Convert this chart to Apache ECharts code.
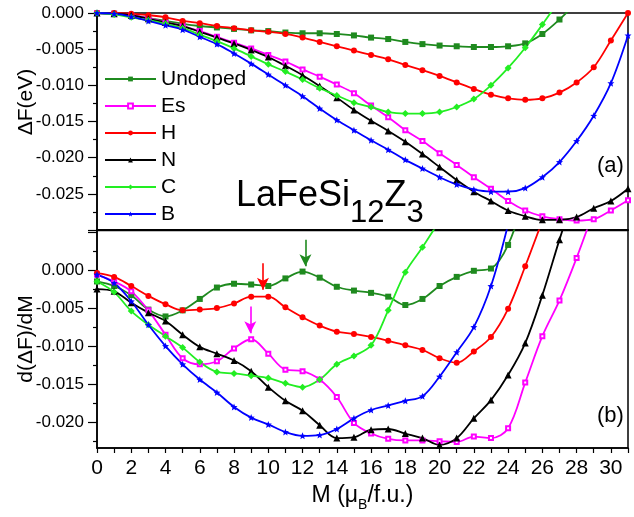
<!DOCTYPE html>
<html>
<head>
<meta charset="utf-8">
<script src="https://cdn.jsdelivr.net/npm/echarts@6/dist/echarts.min.js"></script>
<style>
  html, body { margin: 0; padding: 0; background: #fff; }
  #chart { width: 634px; height: 517px; }
</style>
</head>
<body>
<div id="chart"></div>
<script>
// Magnetic moment M (μB/f.u.)
const M = [0,1,2,3,4,5,6,7,8,9,10,11,12,13,14,15,16,17,18,19,20,21,22,23,24,25,26,27,28,29,30,31];

// Free-energy change ΔF (eV), panel (a)
const dfUndoped = [0,-0.0001,-0.0004,-0.0007,-0.0011,-0.0015,-0.0018,-0.0020,-0.0022,-0.0024,-0.0025,-0.0027,-0.0028,-0.0028,-0.0029,-0.0031,-0.0034,-0.0036,-0.0040,-0.0043,-0.0045,-0.0046,-0.0047,-0.0047,-0.0046,-0.0042,-0.0029,-0.0009,0.0015];
const dfEs = [0,-0.0001,-0.0003,-0.0007,-0.0013,-0.0018,-0.0025,-0.0033,-0.0041,-0.0049,-0.0058,-0.0067,-0.0078,-0.0088,-0.0099,-0.0111,-0.0128,-0.0144,-0.0162,-0.0177,-0.0194,-0.0210,-0.0227,-0.0243,-0.0260,-0.0273,-0.0281,-0.0285,-0.0287,-0.0285,-0.0273,-0.0259];
const dfH = [0,0,-0.0001,-0.0003,-0.0006,-0.0011,-0.0014,-0.0018,-0.0021,-0.0024,-0.0026,-0.0029,-0.0034,-0.0040,-0.0046,-0.0052,-0.0058,-0.0064,-0.0072,-0.0079,-0.0087,-0.0096,-0.0105,-0.0113,-0.0118,-0.0120,-0.0118,-0.0110,-0.0096,-0.0075,-0.0038,0.0000];
const dfN = [0,-0.0001,-0.0003,-0.0008,-0.0013,-0.0018,-0.0026,-0.0034,-0.0042,-0.0051,-0.0061,-0.0073,-0.0086,-0.0101,-0.0117,-0.0134,-0.0149,-0.0163,-0.0178,-0.0195,-0.0213,-0.0231,-0.0247,-0.0260,-0.0273,-0.0281,-0.0286,-0.0286,-0.0282,-0.0270,-0.0260,-0.0243];
const dfC = [0,-0.0002,-0.0006,-0.0010,-0.0015,-0.0021,-0.0030,-0.0039,-0.0049,-0.0060,-0.0071,-0.0081,-0.0092,-0.0104,-0.0114,-0.0124,-0.0130,-0.0137,-0.0139,-0.0139,-0.0137,-0.0130,-0.0119,-0.0100,-0.0076,-0.0048,-0.0016,0.0018];
const dfB = [0,-0.0001,-0.0005,-0.0011,-0.0017,-0.0023,-0.0033,-0.0043,-0.0056,-0.0070,-0.0085,-0.0100,-0.0115,-0.0132,-0.0148,-0.0162,-0.0176,-0.0189,-0.0203,-0.0215,-0.0227,-0.0237,-0.0244,-0.0247,-0.0247,-0.0242,-0.0227,-0.0206,-0.0177,-0.0142,-0.0097,-0.0031];

// Derivative d(ΔF)/dM, panel (b)
const dUndoped = [-0.0015,-0.0021,-0.0033,-0.0052,-0.0061,-0.0053,-0.0038,-0.0023,-0.0018,-0.0019,-0.0021,-0.0011,-0.0002,-0.0010,-0.0022,-0.0027,-0.0030,-0.0035,-0.0046,-0.0038,-0.0021,-0.0009,-0.0001,0.0002,0.0033,0.0100];
const dEs = [-0.0006,-0.0015,-0.0028,-0.0053,-0.0085,-0.0116,-0.0124,-0.0120,-0.0103,-0.0091,-0.0110,-0.0131,-0.0133,-0.0144,-0.0167,-0.0201,-0.0215,-0.0222,-0.0224,-0.0224,-0.0225,-0.0226,-0.0219,-0.0221,-0.0208,-0.0148,-0.0087,-0.0040,0.0016,0.0078];
const dH = [-0.0004,-0.0009,-0.0021,-0.0034,-0.0045,-0.0053,-0.0052,-0.0050,-0.0044,-0.0035,-0.0035,-0.0049,-0.0062,-0.0073,-0.0081,-0.0084,-0.0088,-0.0093,-0.0099,-0.0105,-0.0116,-0.0122,-0.0107,-0.0088,-0.0051,0.0005,0.0065];
const dN = [-0.0025,-0.0028,-0.0043,-0.0056,-0.0067,-0.0085,-0.0101,-0.0110,-0.0119,-0.0133,-0.0154,-0.0172,-0.0185,-0.0204,-0.0221,-0.0220,-0.0210,-0.0209,-0.0215,-0.0221,-0.0230,-0.0221,-0.0195,-0.0171,-0.0138,-0.0096,-0.0033,0.0040,0.0110];
const dC = [-0.0015,-0.0029,-0.0054,-0.0072,-0.0087,-0.0102,-0.0121,-0.0134,-0.0136,-0.0139,-0.0142,-0.0149,-0.0154,-0.0144,-0.0124,-0.0113,-0.0099,-0.0053,-0.0003,0.0030,0.0065];
const dB = [-0.0006,-0.0017,-0.0041,-0.0072,-0.0100,-0.0124,-0.0144,-0.0161,-0.0180,-0.0194,-0.0203,-0.0213,-0.0218,-0.0217,-0.0209,-0.0195,-0.0184,-0.0178,-0.0172,-0.0166,-0.0140,-0.0108,-0.0075,-0.0021,0.0060];

// Axis ticks and labels
const xLabelValues = [0,2,4,6,8,10,12,14,16,18,20,22,24,26,28,30];
const derivMajorTicks = [0.005,0,-0.005,-0.010,-0.015,-0.020];
const derivLabelValues = [0,-0.005,-0.010,-0.015,-0.020];
const derivMinorTicks = [0.0025,-0.0025,-0.0075,-0.0125,-0.0175,-0.0225];

// Arrows marking the local maxima in panel (b): [M, start, end]
const arrowUndoped = [12.17, 0.0040, 0.0005];
const arrowH = [9.69, 0.0009, -0.0026];
const arrowEs = [8.95, -0.0048, -0.0083];

const FONT = '"Liberation Sans", Arial, sans-serif';
const starPath = 'path://M0,-10L2.6,-3.5L9.5,-3.1L4.2,1.4L5.9,8.1L0,4.3L-5.9,8.1L-4.2,1.4L-9.5,-3.1L-2.6,-3.5Z';

const styles = {
  Undoped: { color: '#1f8a1f', symbol: 'rect', size: 6 },
  Es: { color: '#ff00ff', symbol: 'emptyRect', size: 4 },
  H: { color: '#ff0000', symbol: 'circle', size: 6 },
  N: { color: '#000000', symbol: 'triangle', size: 7 },
  C: { color: '#22ee22', symbol: 'diamond', size: 7 },
  B: { color: '#0000ff', symbol: starPath, size: 7 }
};

const pairs = arr => arr.map((v, i) => [M[i], v]);

function makeSeries(name, values, grid, arrow) {
  const s = styles[name];
  const series = {
    name: name,
    type: 'line',
    xAxisIndex: grid,
    yAxisIndex: grid === 0 ? 0 : 1,
    data: pairs(values),
    smooth: 0.35,
    clip: true,
    symbol: s.symbol,
    symbolSize: s.size,
    showSymbol: true,
    lineStyle: { color: s.color, width: 1.8 },
    itemStyle: { color: s.color, borderColor: s.color, borderWidth: s.symbol === 'emptyRect' ? 1 : 0 },
    emphasis: { disabled: true },
    z: 3
  };
  if (arrow) {
    series.markLine = {
      silent: true,
      symbol: ['none', 'arrow'],
      symbolSize: [9, 12],
      lineStyle: { color: s.color, width: 1.6, type: 'solid' },
      label: { show: false },
      data: [[{ coord: [arrow[0], arrow[1]] }, { coord: [arrow[0], arrow[2]] }]]
    };
  }
  return series;
}

const axisLineStyle = { color: '#000', width: 1.5 };
const tickLine = { color: '#000', width: 1.2 };
const fmt3 = v => (Math.abs(v) < 1e-9 ? '0.000' : v.toFixed(3));

const option = {
  animation: false,
  backgroundColor: '#fff',
  textStyle: { fontFamily: FONT },
  grid: [
    { left: 97, right: 6, top: 13, height: 217, show: true, borderColor: '#000', borderWidth: 1.5, backgroundColor: 'transparent', containLabel: false, outerBoundsMode: 'none' },
    { left: 97, right: 6, top: 230.5, height: 217.5, show: true, borderColor: '#000', borderWidth: 1.5, backgroundColor: 'transparent', containLabel: false, outerBoundsMode: 'none' }
  ],
  legend: {
    orient: 'vertical',
    left: 104,
    top: 68,
    padding: 0,
    itemWidth: 51,
    itemHeight: 6,
    itemGap: 5,
    selectedMode: false,
    textStyle: { fontSize: 21, fontFamily: FONT, color: '#000', lineHeight: 22 },
    data: ['Undoped', 'Es', 'H', 'N', 'C', 'B']
  },
  xAxis: [
    {
      gridIndex: 0, type: 'value', min: 0, max: 31, interval: 1,
      axisLine: { show: true, onZero: false, lineStyle: { color: '#000', width: 2 } },
      axisTick: { show: false }, axisLabel: { show: false }, splitLine: { show: false }
    },
    {
      gridIndex: 1, type: 'value', min: 0, max: 31, interval: 1,
      axisLine: { show: true, onZero: false, lineStyle: axisLineStyle },
      axisTick: { show: true, inside: false, length: 5, lineStyle: tickLine },
      axisLabel: { customValues: xLabelValues, fontSize: 21, color: '#000', fontFamily: FONT, margin: 10 },
      splitLine: { show: false },
      name: '{t|M (μ}{s|B}{t|/f.u.)}',
      nameLocation: 'middle',
      nameGap: 36,
      nameTextStyle: {
        rich: {
          t: { fontSize: 23, fontFamily: FONT, color: '#000', verticalAlign: 'bottom', padding: [0, 0, 5, 0] },
          s: { fontSize: 14, fontFamily: FONT, color: '#000', verticalAlign: 'bottom' }
        }
      }
    }
  ],
  yAxis: [
    {
      gridIndex: 0, type: 'value', min: -0.030, max: 0, interval: 0.005,
      axisLine: { show: true, lineStyle: axisLineStyle },
      axisTick: { show: true, inside: false, length: 9, lineStyle: tickLine },
      minorTick: { show: true, splitNumber: 2, length: 4, lineStyle: tickLine },
      axisLabel: { fontSize: 17, color: '#000', fontFamily: FONT, margin: 13, showMinLabel: false, formatter: fmt3 },
      splitLine: { show: false }
    },
    {
      gridIndex: 1, type: 'value', min: -0.0234, max: 0.0052, position: 'left',
      axisLine: { show: true, lineStyle: axisLineStyle },
      axisTick: { show: true, inside: false, length: 9, customValues: derivMajorTicks, lineStyle: tickLine },
      axisLabel: { customValues: derivLabelValues, fontSize: 17, color: '#000', fontFamily: FONT, margin: 13, formatter: fmt3 },
      splitLine: { show: false }
    },
    {
      gridIndex: 1, type: 'value', min: -0.0234, max: 0.0052, position: 'left', offset: 0,
      axisLine: { show: false },
      axisTick: { show: true, inside: false, length: 4, customValues: derivMinorTicks, lineStyle: tickLine },
      axisLabel: { show: false },
      splitLine: { show: false }
    }
  ],
  graphic: [
    {
      type: 'text', x: 26, y: 102, rotation: Math.PI / 2,
      style: { text: 'ΔF(eV)', fontSize: 21, fontFamily: FONT, fill: '#000', align: 'center', verticalAlign: 'middle' }
    },
    {
      type: 'text', x: 26, y: 339, rotation: Math.PI / 2,
      style: { text: 'd(ΔF)/dM', fontSize: 21, fontFamily: FONT, fill: '#000', align: 'center', verticalAlign: 'middle' }
    },
    {
      type: 'text', x: 236, y: 178,
      style: {
        text: '{m|LaFeSi}{s|12}{m|Z}{s|3}',
        fill: '#000',
        rich: {
          m: { fontSize: 36, fontFamily: FONT, fill: '#000', verticalAlign: 'bottom', padding: [0, 0, 15, 0] },
          s: { fontSize: 31, fontFamily: FONT, fill: '#000', verticalAlign: 'bottom' }
        }
      }
    },
    { type: 'text', x: 597, y: 155, style: { text: '(a)', fontSize: 22, fontFamily: FONT, fill: '#000' } },
    { type: 'text', x: 597, y: 405, style: { text: '(b)', fontSize: 22, fontFamily: FONT, fill: '#000' } }
  ],
  series: [
    makeSeries('Undoped', dfUndoped, 0),
    makeSeries('Es', dfEs, 0),
    makeSeries('H', dfH, 0),
    makeSeries('N', dfN, 0),
    makeSeries('C', dfC, 0),
    makeSeries('B', dfB, 0),
    makeSeries('Undoped', dUndoped, 1, arrowUndoped),
    makeSeries('Es', dEs, 1, arrowEs),
    makeSeries('H', dH, 1, arrowH),
    makeSeries('N', dN, 1),
    makeSeries('C', dC, 1),
    makeSeries('B', dB, 1)
  ]
};

const chart = echarts.init(document.getElementById('chart'), null, { renderer: 'canvas' });
chart.setOption(option);
</script>
</body>
</html>
